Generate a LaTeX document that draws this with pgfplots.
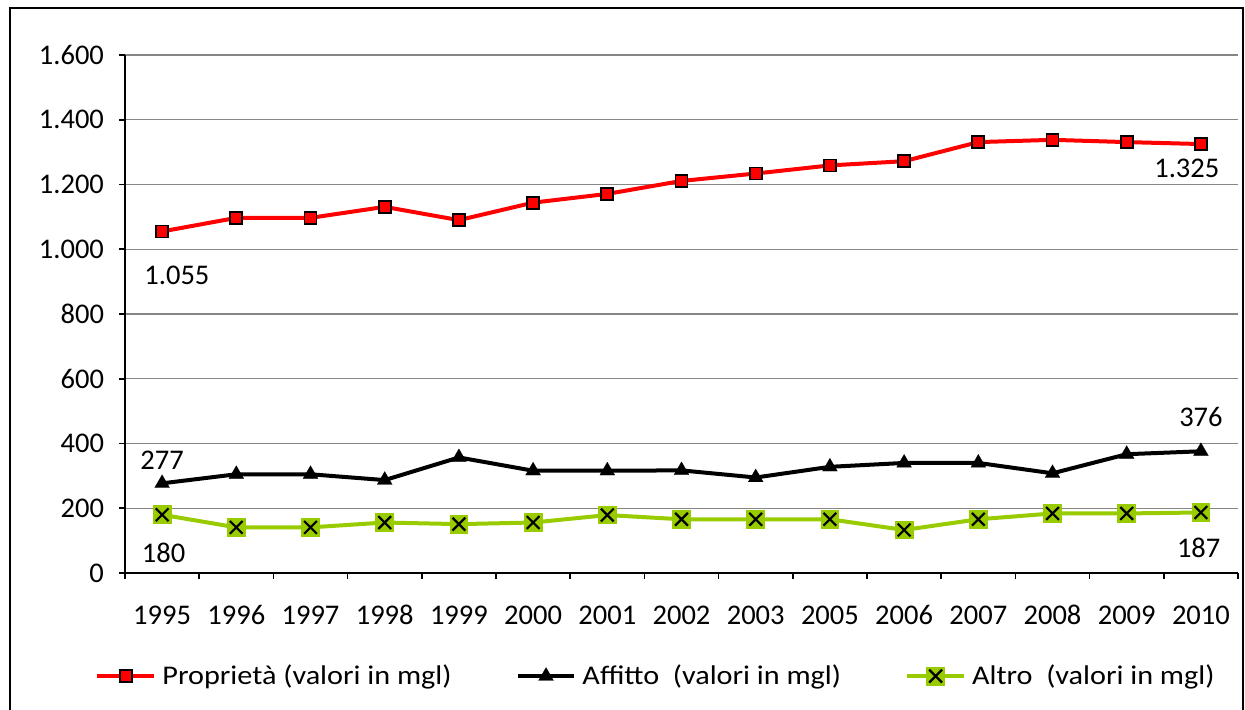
\documentclass[border=0pt]{standalone}
\usepackage{pgfplots}
\pgfplotsset{compat=1.18}
\usepackage{fontspec}
\setmainfont{Carlito}
\newfontfamily\legfont[FakeStretch=1.12]{Carlito}
\definecolor{altgreen}{RGB}{153,204,0}
\definecolor{gridgray}{RGB}{134,134,134}
\pgfdeclareplotmark{xbox}{%
  \pgfpathrectangle{\pgfpoint{-\pgfplotmarksize}{-\pgfplotmarksize}}{\pgfpoint{2\pgfplotmarksize}{2\pgfplotmarksize}}%
  \pgfsetfillcolor{altgreen}%
  \pgfusepath{fill}%
  \pgfsetstrokecolor{black}%
  \pgfsetlinewidth{1.1pt}%
  \pgfpathmoveto{\pgfpoint{-0.68\pgfplotmarksize}{-0.68\pgfplotmarksize}}%
  \pgfpathlineto{\pgfpoint{0.68\pgfplotmarksize}{0.68\pgfplotmarksize}}%
  \pgfpathmoveto{\pgfpoint{-0.68\pgfplotmarksize}{0.68\pgfplotmarksize}}%
  \pgfpathlineto{\pgfpoint{0.68\pgfplotmarksize}{-0.68\pgfplotmarksize}}%
  \pgfusepath{stroke}}

\pgfplotstableread{
x prop aff alt
0 1055 277 180
1 1097 305 141
2 1097 305 141
3 1131 287 156
4 1090 357 151
5 1144 316 156
6 1171 316 179
7 1211 317 166
8 1234 295 166
9 1259 328 166
10 1272 340 133
11 1331 340 166
12 1338 308 184
13 1331 367 184
14 1325 376 187
}\datatable

\begin{document}
\begin{tikzpicture}
\useasboundingbox (0pt,0pt) rectangle (622.5pt,-354.5pt);
\draw[line width=0.8pt, black] (5pt,-360pt) -- (5pt,-4pt) -- (621.5pt,-4pt) -- (621.5pt,-360pt);
\begin{axis}[
  at={(62.5pt,-286.5pt)}, anchor=south west,
  scale only axis, width=556.5pt, height=259pt,
  xmin=-0.5, xmax=14.5, ymin=0, ymax=1600,
  axis x line=bottom, axis y line=left,
  axis line style={-, black, line width=0.8pt},
  xtick={0,...,14},
  xticklabels={1995,1996,1997,1998,1999,2000,2001,2002,2003,2005,2006,2007,2008,2009,2010},
  minor xtick={-0.5,0.5,...,14.5},
  ytick={0,200,...,1600},
  minor ytick={0,200,...,1600},
  tick align=outside,
  major tick length=0pt, minor tick length=3pt,
  tick style={black, line width=0.8pt},
  ymajorgrids=true,
  major grid style={gridgray, line width=0.7pt},
  /pgf/number format/.cd, 1000 sep={.}, assume math mode=true,
  /pgfplots/.cd,
  ticklabel style={font=\fontsize{14.25}{17}\selectfont},
  yticklabel style={xshift=-7pt},
  xticklabel style={anchor=base, yshift=-25.5pt},
  legend columns=3,
  legend cell align=left,
  legend style={at={(0.478,-0.199)}, anchor=center, draw=none, fill=none,
    font=\legfont\fontsize{13.5}{16}\selectfont,
    /tikz/every odd column/.append style={column sep=1pt},
    /tikz/every even column/.append style={column sep=30pt}},
  legend image code/.code={\draw[mark repeat=2,mark phase=2] plot coordinates {(0cm,0cm)(0.5cm,0cm)(1.0cm,0cm)};},
]
\addplot[red, line width=2pt, mark=square*, mark size=3pt, mark options={fill=red, draw=black, line width=0.9pt, solid}] table[x=x,y=prop]{\datatable};
\addlegendentry{Proprietà (valori in mgl)}
\addplot[black, line width=2pt, mark=triangle*, mark size=4.3pt, mark options={fill=black, draw=black, line width=0.1pt}] table[x=x,y=aff]{\datatable};
\addlegendentry{Affitto\ \ (valori in mgl)}
\addplot[altgreen, line width=2pt, mark=xbox, mark size=4.7pt] table[x=x,y=alt]{\datatable};
\addlegendentry{Altro\ \ (valori in mgl)}
\node[font=\fontsize{14.25}{17}\selectfont] at (axis cs:0.2,920) {1.055};
\node[font=\fontsize{14.25}{17}\selectfont] at (axis cs:0,349) {277};
\node[font=\fontsize{14.25}{17}\selectfont] at (axis cs:0.02,62) {180};
\node[font=\fontsize{14.25}{17}\selectfont] at (axis cs:13.81,1251) {1.325};
\node[font=\fontsize{14.25}{17}\selectfont] at (axis cs:14,482) {376};
\node[font=\fontsize{14.25}{17}\selectfont] at (axis cs:13.97,77) {187};
\end{axis}
\end{tikzpicture}
\end{document}
